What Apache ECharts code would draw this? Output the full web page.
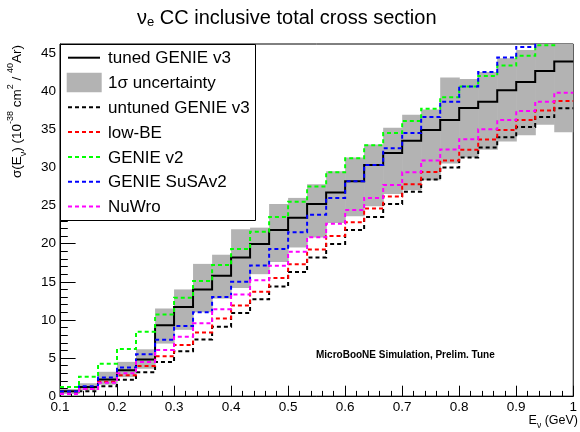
<!DOCTYPE html>
<html><head><meta charset="utf-8">
<script src="https://cdn.jsdelivr.net/npm/echarts@6/dist/echarts.min.js"></script>
<style>html,body{margin:0;padding:0;background:#fff}#c{width:580px;height:432px}</style>
</head><body><div id="c"></div>
<script>
// ---- data ----
const binEdges = [0.1000, 0.1333, 0.1667, 0.2000, 0.2333, 0.2667, 0.3000, 0.3333, 0.3667, 0.4000, 0.4333, 0.4667, 0.5000, 0.5333, 0.5667, 0.6000, 0.6333, 0.6667, 0.7000, 0.7333, 0.7667, 0.8000, 0.8333, 0.8667, 0.9000, 0.9333, 0.9667, 1.0000];
const tunedV3   = [0.65, 1.2, 2.2, 3.4, 4.8, 9.3, 11.7, 14.0, 15.8, 18.2, 19.95, 21.8, 23.4, 25.2, 26.7, 28.2, 30.3, 31.9, 33.5, 34.9, 36.2, 37.8, 38.6, 40.1, 41.2, 42.65, 43.9];
const bandHigh  = [0.95, 1.7, 3.2, 4.5, 6.15, 11.5, 14.0, 17.35, 18.55, 21.9, 22.1, 25.2, 26.0, 27.8, 29.5, 31.3, 33.0, 35.2, 36.9, 37.6, 41.8, 41.6, 42.5, 44.3, 45.4, 46.4, 46.6];
const bandLow   = [0.3, 0.8, 1.5, 2.5, 3.6, 6.9, 8.7, 11.0, 12.8, 14.2, 16.0, 17.6, 19.5, 20.8, 22.7, 23.6, 24.9, 26.5, 27.0, 28.3, 30.5, 31.3, 32.3, 33.4, 34.2, 35.6, 34.6];
const untunedV3 = [0.3, 0.65, 1.3, 2.15, 3.15, 4.5, 5.9, 7.45, 9.1, 10.9, 12.7, 14.4, 16.3, 18.2, 19.95, 21.8, 23.5, 25.2, 26.8, 28.4, 30.0, 31.3, 32.6, 33.95, 35.3, 36.6, 37.75];
const lowBE     = [0.35, 0.95, 1.9, 2.75, 3.95, 5.25, 6.7, 8.35, 10.2, 11.9, 13.7, 15.5, 17.3, 19.25, 21.0, 22.8, 24.6, 26.2, 27.8, 29.4, 30.9, 32.3, 33.65, 34.9, 36.2, 37.45, 38.7];
const genieV2   = [1.2, 2.55, 4.25, 6.2, 8.45, 10.7, 12.9, 15.1, 17.2, 19.3, 21.55, 23.5, 25.5, 27.5, 29.35, 31.2, 32.9, 34.5, 36.1, 37.7, 39.2, 40.6, 42.0, 43.35, 44.65, 46.0, 47.3];
const susaV2    = [0.6, 1.3, 2.45, 3.75, 5.5, 7.4, 9.2, 11.0, 13.0, 15.0, 17.15, 19.3, 21.5, 23.8, 26.0, 28.2, 30.3, 32.5, 34.5, 36.6, 38.6, 40.6, 42.5, 44.4, 45.8, 47.5, 49.0];
const nuWro     = [0.3, 0.95, 1.75, 3.0, 4.5, 6.05, 7.8, 9.55, 11.4, 13.35, 15.2, 17.1, 18.95, 20.85, 22.6, 24.4, 26.0, 27.7, 29.35, 30.9, 32.35, 33.7, 35.0, 36.2, 37.4, 38.6, 39.8];
const legendLabels = ['tuned GENIE v3', '1σ uncertainty', 'untuned GENIE v3', 'low-BE', 'GENIE v2', 'GENIE SuSAv2', 'NuWro'];
const xTickLabels = ['0.1','0.2','0.3','0.4','0.5','0.6','0.7','0.8','0.9','1'];
const yTickLabels = ['0','5','10','15','20','25','30','35','40','45'];

// ---- build ----
const FONT = 'Liberation Sans, Arial, Helvetica, sans-serif';
const GREY = '#b3b3b3';
function stepData(vals) {
  return binEdges.map((e, i) => [e, vals[Math.min(i, vals.length - 1)]]);
}
const bandData = tunedV3.map((_, i) => [binEdges[i], binEdges[i + 1], bandLow[i], bandHigh[i]]);

const lineDefs = [
  {name: legendLabels[0], vals: tunedV3,   color: '#000000', dash: 'solid'},
  {name: legendLabels[2], vals: untunedV3, color: '#000000', dash: [4, 3]},
  {name: legendLabels[3], vals: lowBE,     color: '#ff0000', dash: [4, 3]},
  {name: legendLabels[4], vals: genieV2,   color: '#00ff00', dash: [4, 3]},
  {name: legendLabels[5], vals: susaV2,    color: '#0000ff', dash: [4, 3]},
  {name: legendLabels[6], vals: nuWro,     color: '#ff00ff', dash: [4, 3]}
];

const series = [{
  type: 'custom', name: legendLabels[1], z: 1,
  itemStyle: {color: GREY},
  encode: {x: [0, 1], y: [2, 3]},
  data: bandData,
  renderItem: function (params, api) {
    const p0 = api.coord([api.value(0), api.value(3)]);
    const p1 = api.coord([api.value(1), api.value(2)]);
    const cs = params.coordSys;
    const rect = echarts.graphic.clipRectByRect(
      {x: p0[0], y: p0[1], width: p1[0] - p0[0] + 0.6, height: p1[1] - p0[1]},
      {x: cs.x, y: cs.y, width: cs.width, height: cs.height});
    return rect && {type: 'rect', shape: rect, style: {fill: GREY}};
  }
}];
lineDefs.forEach((d, k) => {
  series.push({
    type: 'line', name: d.name, step: 'end', symbol: 'none', z: 3 + k,
    clip: true,
    lineStyle: {color: d.color, width: 2, type: d.dash, cap: 'butt', join: 'miter'},
    data: stepData(d.vals)
  });
});

// legend built with graphic elements
const legTop = 44.5, legLeft = 60.5, legW = 195, legH = 176;
const legendEls = [{type: 'rect', z: 100, shape: {x: legLeft, y: legTop, width: legW, height: legH},
  style: {fill: '#fff', stroke: '#000', lineWidth: 1}}];
const legendStyles = [
  {kind: 'line', color: '#000', dash: null},
  {kind: 'box', color: GREY},
  {kind: 'line', color: '#000', dash: [4, 3]},
  {kind: 'line', color: '#ff0000', dash: [4, 3]},
  {kind: 'line', color: '#00ff00', dash: [4, 3]},
  {kind: 'line', color: '#0000ff', dash: [4, 3]},
  {kind: 'line', color: '#ff00ff', dash: [4, 3]}
];
legendLabels.forEach((lab, i) => {
  const yc = 57.7 + 24.8 * i;
  const st = legendStyles[i];
  if (st.kind === 'box') {
    legendEls.push({type: 'rect', z: 101, shape: {x: 66.7, y: yc - 9.7, width: 35, height: 19.4}, style: {fill: st.color}});
  } else {
    legendEls.push({type: 'line', z: 101, shape: {x1: 68, y1: yc, x2: 100, y2: yc},
      style: {stroke: st.color, lineWidth: 2, lineDash: st.dash}});
  }
  legendEls.push({type: 'text', z: 101, x: 108, y: yc + 1,
    style: {text: lab, fill: '#000', font: '17px ' + FONT, textAlign: 'left', textVerticalAlign: 'middle'}});
});

const chart = echarts.init(document.getElementById('c'), null, {renderer: 'canvas'});
chart.setOption({
  animation: false,
  backgroundColor: '#fff',
  title: {
    text: 'ν{sub|e} CC inclusive total cross section',
    left: 132, top: 2,
    textStyle: {fontFamily: FONT, fontSize: 20, fontWeight: 'normal', color: '#000',
      rich: {sub: {fontFamily: FONT, fontSize: 13, color: '#000', verticalAlign: 'bottom', padding: [9, 0, 0, 0]}}}
  },
  grid: {left: 60, right: 0.5, top: 44, bottom: 35.8, show: true, borderColor: '#000', borderWidth: 1, backgroundColor: 'transparent'},
  xAxis: {
    type: 'value', min: 0.1, max: 1.0, interval: 0.1,
    axisLine: {lineStyle: {color: '#000', width: 1}},
    axisTick: {inside: true, length: 10.5, lineStyle: {color: '#000'}},
    minorTick: {show: true, splitNumber: 5, length: 5.3, lineStyle: {color: '#000'}},
    splitLine: {show: false},
    axisLabel: {margin: 4, fontFamily: FONT, fontSize: 13.5, color: '#000',
      formatter: function (v) { const i = Math.round((v - 0.1) * 10); return xTickLabels[i] !== undefined ? xTickLabels[i] : ''; }}
  },
  yAxis: {
    type: 'value', min: 0, max: 46.18, interval: 5,
    axisLine: {lineStyle: {color: '#000', width: 1}},
    axisTick: {inside: true, length: 15.6, lineStyle: {color: '#000'}},
    minorTick: {show: true, splitNumber: 5, length: 7.8, lineStyle: {color: '#000'}},
    splitLine: {show: false},
    axisLabel: {margin: 4, fontFamily: FONT, fontSize: 13.5, color: '#000', showMaxLabel: false,
      formatter: function (v) { const i = Math.round(v / 5); return (Math.abs(v - i * 5) < 1e-6 && yTickLabels[i] !== undefined) ? yTickLabels[i] : ''; }}
  },
  graphic: legendEls.concat([
    {type: 'text', z: 101, x: 17, y: 45, rotation: Math.PI / 2,
      style: {text: 'σ(E{sub|ν}) (10{sup|-38} cm{sup|2} / {sup|40}Ar)', fill: '#000', font: '13.5px ' + FONT,
        textAlign: 'right', textVerticalAlign: 'middle', lineHeight: 22,
        rich: {sup: {fontFamily: FONT, fontSize: 9, fill: '#000', verticalAlign: 'top'},
               sub: {fontFamily: FONT, fontSize: 9, fill: '#000', verticalAlign: 'bottom'}}}},
    {type: 'text', z: 101, x: 578, y: 421,
      style: {text: 'E{sub|ν} (GeV)', fill: '#000', font: '12.5px ' + FONT, textAlign: 'right', textVerticalAlign: 'middle', lineHeight: 18,
        rich: {sub: {fontFamily: FONT, fontSize: 8.5, fill: '#000', verticalAlign: 'bottom'}}}},
    {type: 'text', z: 101, x: 316, y: 355,
      style: {text: 'MicroBooNE Simulation, Prelim. Tune', fill: '#000', font: 'bold 10px ' + FONT, textAlign: 'left', textVerticalAlign: 'middle'}}
  ]),
  series: series
});
</script></body></html>
